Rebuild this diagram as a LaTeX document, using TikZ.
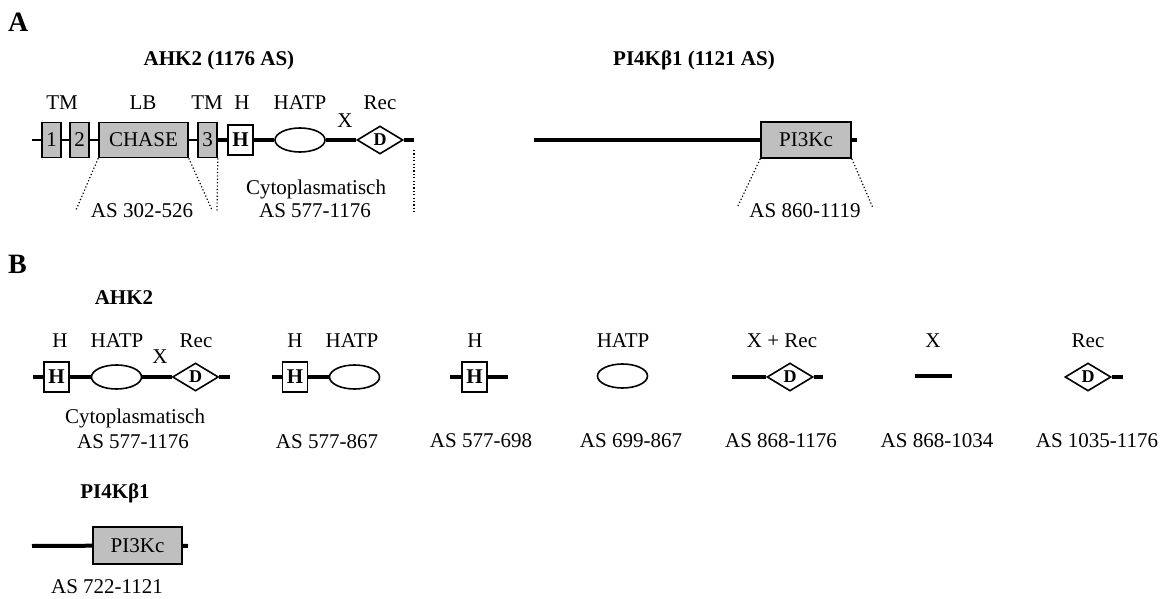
\documentclass[tikz,border=0pt]{standalone}
\usepackage{fontspec}
\setmainfont{Liberation Serif}
\usetikzlibrary{shapes.geometric}

\tikzset{
  txt/.style={font=\fontsize{21}{24}\selectfont},
  dom/.style={draw, line width=1.6pt, fill=gray!50, minimum height=35pt, inner sep=0pt, txt},
  hbox/.style={draw, line width=1.6pt, fill=white, minimum width=25pt, minimum height=30pt, inner sep=0pt, font=\fontsize{21}{24}\selectfont\bfseries},
  hatp/.style={draw, line width=1.6pt, ellipse, fill=white, minimum width=50pt, minimum height=24pt, inner sep=0pt},
  rec/.style={draw, line width=1.6pt, diamond, fill=white, minimum width=46pt, minimum height=28pt, inner sep=0pt, font=\fontsize{18}{20}\selectfont\bfseries},
  thinl/.style={line width=1.8pt},
  thickl/.style={line width=4pt},
  lbl/.style={anchor=base, inner sep=0pt, txt},
  ttl/.style={anchor=base, inner sep=0pt, font=\fontsize{21}{24}\selectfont\bfseries},
  part/.style={anchor=base west, inner sep=0pt, font=\fontsize{28}{30}\selectfont\bfseries},
  dots/.style={line width=1.2pt, dash pattern=on 1.2pt off 2.2pt}
}

\begin{document}
\begin{tikzpicture}[x=1pt, y=-1pt]
  \useasboundingbox (0,0) rectangle (1168,599);

  % A: AHK2
  \node[part] (pa) at (8,32) {A};
  \node[ttl] (ahkt) at (219,66) {AHK2 (1176 AS)};
  \node[dom, minimum width=19pt] (tm1) at (51.5,140) {1};
  \node[dom, minimum width=19pt] (tm2) at (79.5,140) {2};
  \node[dom, minimum width=89pt] (lb) at (143.5,140) {CHASE};
  \node[dom, minimum width=19pt] (tm3) at (207.5,140) {3};
  \node[hbox] (h) at (240.5,140) {H};
  \node[hatp] (hatp) at (300,140) {};
  \node[rec] (rec) at (380,140) {D};
  \coordinate (nterm) at (32,140);
  \coordinate (cterm) at (414,140);
  \draw[thinl] (nterm) -- (tm1) -- (tm2) -- (lb) -- (tm3);
  \draw[thickl] (tm3) -- (h) -- (hatp) -- (rec) -- (cterm);
  \node[lbl] (ltm1) at (62,110) {TM};
  \node[lbl] (llb) at (143,110) {LB};
  \node[lbl] (ltm3) at (207,110) {TM};
  \node[lbl] (lh) at (242,110) {H};
  \node[lbl] (lhatp) at (300,110) {HATP};
  \node[lbl] (lx) at (345,128) {X};
  \node[lbl] (lrec) at (380,110) {Rec};
  \coordinate (d1) at (76,210);
  \coordinate (d2) at (212,210);
  \coordinate (d3) at (217,212);
  \coordinate (d4) at (414,212);
  \draw[dots] (lb.south west) -- (d1);
  \draw[dots] (lb.south east) -- (d2);
  \draw[dots] (tm3.south east) -- (d3);
  \draw[dots] ([yshift=-10pt]cterm) -- (d4);
  \node[lbl] (lbrange) at (142,217) {AS 302-526};
  \node[lbl] (cyto) at (316,194) {Cytoplasmatisch};
  \node[lbl] (cyrange) at (315,217) {AS 577-1176};

  % A: PI4Kb1
  \node[ttl] (pit) at (694,66) {PI4Kβ1 (1121 AS)};
  \coordinate (pin) at (534,140);
  \coordinate (pic) at (857,140);
  \node[dom, minimum width=90pt, minimum height=36pt] (pikc) at (806,140) {PI3Kc};
  \draw[thickl] (pin) -- (pikc) -- (pic);
  \coordinate (d5) at (737,208);
  \coordinate (d6) at (873,208);
  \draw[dots] (pikc.south west) -- (d5);
  \draw[dots] (pikc.south east) -- (d6);
  \node[lbl] (pirange) at (805,217) {AS 860-1119};

  % B: AHK2 fragments
  \node[part] (pb) at (8,273) {B};
  \node[ttl] (bahk) at (124,304) {AHK2};

  \coordinate (b1n) at (33,377);
  \coordinate (b1c) at (230,377);
  \node[hbox] (b1h) at (56.5,377) {H};
  \node[hatp] (b1a) at (116.5,377) {};
  \node[rec] (b1r) at (195.5,377) {D};
  \draw[thickl] (b1n) -- (b1h) -- (b1a) -- (b1r) -- (b1c);
  \node[lbl] (b1lh) at (60,347) {H};
  \node[lbl] (b1la) at (117,347) {HATP};
  \node[lbl] (b1lx) at (160,363) {X};
  \node[lbl] (b1lr) at (196,347) {Rec};
  \node[lbl] (b1cy) at (135,423) {Cytoplasmatisch};
  \node[lbl] (b1as) at (133,448) {AS 577-1176};

  \coordinate (b2n) at (272,377);
  \node[hbox] (b2h) at (295,377) {H};
  \node[hatp] (b2a) at (354.5,377) {};
  \draw[thickl] (b2n) -- (b2h) -- (b2a);
  \node[lbl] (b2lh) at (295,347) {H};
  \node[lbl] (b2la) at (352,347) {HATP};
  \node[lbl] (b2as) at (327,448) {AS 577-867};

  \coordinate (b3n) at (450,377);
  \coordinate (b3c) at (508,377);
  \node[hbox] (b3h) at (474.5,377) {H};
  \draw[thickl] (b3n) -- (b3h) -- (b3c);
  \node[lbl] (b3lh) at (475,347) {H};
  \node[lbl] (b3as) at (481,447) {AS 577-698};

  \node[hatp] (b4a) at (622.5,376) {};
  \node[lbl] (b4la) at (623,347) {HATP};
  \node[lbl] (b4as) at (631,447) {AS 699-867};

  \coordinate (b5n) at (732,377);
  \coordinate (b5c) at (823,377);
  \node[rec] (b5r) at (790,377) {D};
  \draw[thickl] (b5n) -- (b5r) -- (b5c);
  \node[lbl] (b5lr) at (782,347) {X + Rec};
  \node[lbl] (b5as) at (781,447) {AS 868-1176};

  \coordinate (b6n) at (915,376);
  \coordinate (b6c) at (952,376);
  \draw[thickl] (b6n) -- (b6c);
  \node[lbl] (b6lx) at (933,347) {X};
  \node[lbl] (b6as) at (937,447) {AS 868-1034};

  \coordinate (b7c) at (1123,377);
  \node[rec] (b7r) at (1088,377) {D};
  \draw[thickl] (b7r) -- (b7c);
  \node[lbl] (b7lr) at (1088,347) {Rec};
  \node[lbl] (b7as) at (1097,447) {AS 1035-1176};

  % B: PI4Kb1 fragment
  \node[ttl] (bpi) at (115,498) {PI4Kβ1};
  \coordinate (b8n) at (32,546);
  \coordinate (b8c) at (188,546);
  \node[dom, minimum width=89pt, minimum height=37pt] (b8k) at (137.5,545.5) {PI3Kc};
  \draw[thickl] (b8n) -- (b8k) -- (b8c);
  \node[lbl] (b8as) at (107,593) {AS 722-1121};
\end{tikzpicture}
\end{document}
